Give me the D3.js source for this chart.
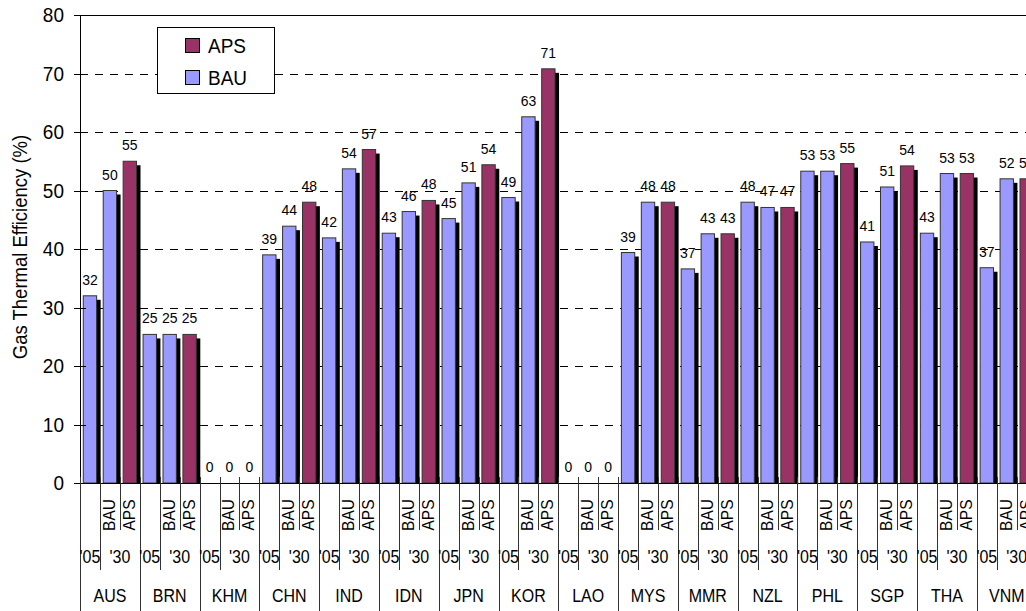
<!DOCTYPE html>
<html>
<head>
<meta charset="utf-8">
<script src="https://cdn.jsdelivr.net/npm/d3@7"></script>
<style>
  html, body { margin: 0; padding: 0; background: #fff; }
  svg { display: block; font-family: "Liberation Sans", Arial, Helvetica, sans-serif; }
</style>
</head>
<body>
<svg id="chart" width="1026" height="611"></svg>
<script>
// ---- data ----
const countries = ["AUS","BRN","KHM","CHN","IND","IDN","JPN","KOR","LAO","MYS","MMR","NZL","PHL","SGP","THA","VNM"];
const base2005  = [32.0, 25.4, 0, 39.0, 41.9, 42.7, 45.2, 48.8, 0, 39.4, 36.6, 48.0, 53.3, 41.2, 42.7, 36.8];
const bau2030   = [50.0, 25.4, 0, 43.9, 53.7, 46.4, 51.3, 62.6, 0, 48.0, 42.6, 47.1, 53.3, 50.6, 52.9, 52.0];
const aps2030   = [55.0, 25.4, 0, 48.0, 57.0, 48.3, 54.4, 70.8, 0, 48.0, 42.6, 47.1, 54.6, 54.2, 52.9, 52.0];
const scenarioLabels = ["", "BAU", "APS"];
const yearLabels = ["'05", "'30"];
const yTicks = [0, 10, 20, 30, 40, 50, 60, 70, 80];
const legendItems = [{name: "APS", color: "#993366"}, {name: "BAU", color: "#9999FF"}];
const colBAU = "#9999FF", colAPS = "#993366";

// ---- layout ----
const svg = d3.select("#chart");
const pLeft = 80, pTop = 15, pBottom = 483, slot = 19.93;
const nSlots = countries.length * 3;
const SY = 1.1; // slight vertical stretch of glyphs, as in the reference

const rows = [];
countries.forEach((c, i) => {
  rows.push({key: c + "-0", country: c, idx: 0, value: base2005[i], color: colBAU});
  rows.push({key: c + "-1", country: c, idx: 1, value: bau2030[i], color: colBAU});
  rows.push({key: c + "-2", country: c, idx: 2, value: aps2030[i], color: colAPS});
});

const x = d3.scaleBand().domain(rows.map(d => d.key)).range([pLeft, pLeft + nSlots * slot]).padding(0);
const y = d3.scaleLinear().domain([0, 80]).range([pBottom, pTop]);
const bw = x.bandwidth();
const barOff = bw * 0.165, barW = bw * 0.67;

// gridlines
svg.append("g").selectAll("line").data(yTicks.filter(t => t > 0 && t < 80)).join("line")
  .attr("x1", pLeft).attr("x2", 1026)
  .attr("y1", d => Math.round(y(d)) + 0.5).attr("y2", d => Math.round(y(d)) + 0.5)
  .attr("stroke", "#000").attr("stroke-width", 1).attr("stroke-dasharray", "8,7");

// top border
svg.append("line").attr("x1", pLeft).attr("x2", 1026)
  .attr("y1", Math.round(y(80)) + 0.5).attr("y2", Math.round(y(80)) + 0.5)
  .attr("stroke", "#000");

// shadows
const barRows = rows.filter(d => d.value > 0);
svg.append("g").selectAll("rect").data(barRows).join("rect")
  .attr("x", d => x(d.key) + barOff + 4)
  .attr("y", d => y(d.value) + 4)
  .attr("width", barW)
  .attr("height", d => pBottom - y(d.value) - 4)
  .attr("fill", "#000");

// bars
svg.append("g").selectAll("rect").data(barRows).join("rect")
  .attr("x", d => x(d.key) + barOff)
  .attr("y", d => y(d.value))
  .attr("width", barW)
  .attr("height", d => pBottom - y(d.value))
  .attr("fill", d => d.color)
  .attr("stroke", "#333").attr("stroke-width", 1);

// value labels
svg.append("g").selectAll("text").data(rows).join("text")
  .attr("transform", d => `translate(${x(d.key) + bw / 2},${y(d.value) - 11}) scale(1,${SY})`)
  .attr("text-anchor", "middle")
  .attr("font-size", 14)
  .attr("fill", "#000")
  .text(d => Math.round(d.value));

// y axis
const yAxis = svg.append("g");
yAxis.append("line").attr("x1", pLeft + 0.5).attr("x2", pLeft + 0.5)
  .attr("y1", y(80)).attr("y2", 611).attr("stroke", "#000");
yAxis.selectAll("line.tick").data(yTicks).join("line").attr("class", "tick")
  .attr("x1", pLeft - 6).attr("x2", pLeft + 6)
  .attr("y1", d => Math.round(y(d)) + 0.5).attr("y2", d => Math.round(y(d)) + 0.5)
  .attr("stroke", "#000");
yAxis.selectAll("text").data(yTicks).join("text")
  .attr("transform", d => `translate(64,${y(d) + 7}) scale(1,${SY})`)
  .attr("text-anchor", "end").attr("font-size", 19).text(d => d);

svg.append("text")
  .attr("transform", `translate(27,${(pTop + pBottom) / 2 - 2}) rotate(-90) scale(1,${SY})`)
  .attr("text-anchor", "middle").attr("font-size", 18.5)
  .text("Gas Thermal Efficiency (%)");

// x baseline
svg.append("line").attr("x1", pLeft).attr("x2", 1026)
  .attr("y1", pBottom + 0.5).attr("y2", pBottom + 0.5).attr("stroke", "#000");

// hierarchical x axis separators
const xa = svg.append("g");
rows.forEach(d => {
  const xs = Math.round(x(d.key)) + 0.5;
  const yEnd = d.idx === 0 ? 611 : (d.idx === 1 ? 570 : 530);
  xa.append("line").attr("x1", xs).attr("x2", xs)
    .attr("y1", pBottom - 6).attr("y2", yEnd).attr("stroke", "#333");
});

// scenario labels
xa.selectAll("text.scn").data(rows.filter(d => d.idx > 0)).join("text").attr("class", "scn")
  .attr("transform", d => `translate(${x(d.key) + bw / 2 + 5},515) rotate(-90) scale(1,${SY})`)
  .attr("text-anchor", "middle").attr("font-size", 15.5)
  .text(d => scenarioLabels[d.idx]);

// year and country labels
countries.forEach(c => {
  xa.append("text").attr("transform", `translate(${x(c + "-0") + bw / 2},563) scale(1,${SY})`)
    .attr("text-anchor", "middle").attr("font-size", 16).text(yearLabels[0]);
  xa.append("text").attr("transform", `translate(${x(c + "-2")},563) scale(1,${SY})`)
    .attr("text-anchor", "middle").attr("font-size", 16).text(yearLabels[1]);
  xa.append("text").attr("transform", `translate(${x(c + "-1") + bw / 2},602) scale(1,${SY})`)
    .attr("text-anchor", "middle").attr("font-size", 16).text(c);
});

// legend
const lg = svg.append("g");
lg.append("rect").attr("x", 157.5).attr("y", 27.5).attr("width", 117).attr("height", 66)
  .attr("fill", "#fff").attr("stroke", "#000");
legendItems.forEach((it, i) => {
  const yy = 38 + i * 32;
  lg.append("rect").attr("x", 185.5).attr("y", yy + 0.5).attr("width", 14).attr("height", 14)
    .attr("fill", it.color).attr("stroke", "#000");
  lg.append("text").attr("transform", `translate(208,${yy + 15}) scale(1,${SY})`)
    .attr("font-size", 19).text(it.name);
});
</script>
</body>
</html>
